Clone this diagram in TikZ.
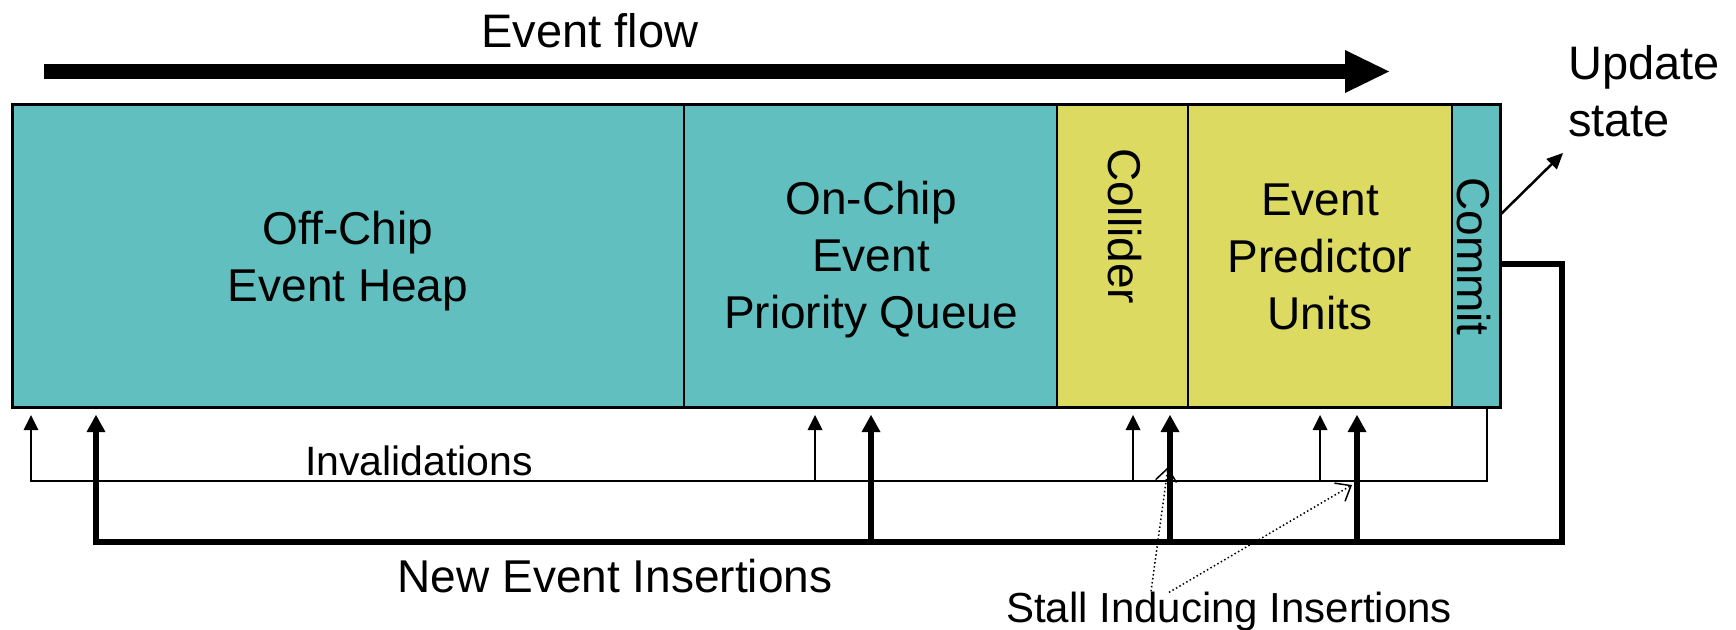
\documentclass[tikz,border=0pt]{standalone}
\usepackage{fontspec}
\setmainfont{Liberation Sans}
\usetikzlibrary{arrows.meta,calc}
\definecolor{stageteal}{HTML}{62BFBF}
\definecolor{stageyellow}{HTML}{DDDA62}
\begin{document}
\begin{tikzpicture}[x=1pt,y=-1pt,
  stage/.style={draw,line width=2pt,inner sep=0pt,outer sep=0pt,minimum height=303pt},
  lbl/.style={font=\fontsize{46}{57}\selectfont,align=center,inner sep=0pt},
  invarrow/.style={line width=1.5pt,shorten >=8pt,-{Triangle[length=15pt,width=15pt,line width=0pt]}},
  insarrow/.style={line width=6pt,shorten >=8pt,-{Triangle[length=17pt,width=19pt,line width=0pt]}},
  stallarrow/.style={line width=1.5pt,dash pattern=on 1.5pt off 2.5pt,-{Straight Barb[length=13pt,width=21pt]}},
]
\useasboundingbox (0,0) rectangle (1736,629);

% pipeline stages
\node[stage,fill=stageteal,minimum width=672pt] (offchip) at (348,255.5) {};
\node[stage,fill=stageteal,minimum width=373pt] (onchip) at (870.5,255.5) {};
\node[stage,fill=stageyellow,minimum width=131pt] (collider) at (1122.5,255.5) {};
\node[stage,fill=stageyellow,minimum width=264pt] (predictor) at (1320,255.5) {};
\node[stage,fill=stageteal,minimum width=48pt] (commit) at (1476,255.5) {};
\draw[line width=3pt] (offchip.north west) rectangle (commit.south east);

% stage labels
\node[lbl] (offlabel) at (348,261.6) {Off-Chip\\Event Heap};
\node[lbl] (onlabel) at (871,259.4) {On-Chip\\Event\\Priority Queue};
\node[lbl] (predlabel) at (1320,257) {Event\\Predictor\\Units};
\node[lbl,rotate=-90] (collabel) at (1125,226) {Collider};
\node[lbl,rotate=-90] (comlabel) at (1474,256.5) {Commit};

% event flow
\coordinate (flowstart) at (44,71.5);
\coordinate (flowend) at (1389,71.5);
\draw[line width=15pt,-{Triangle[length=44pt,width=43pt,line width=0pt]}] (flowstart) -- (flowend);
\node[font=\fontsize{47}{57}\selectfont,anchor=base,inner sep=0pt] (flowlabel) at (590,47) {Event flow};

% commit output
\node[font=\fontsize{47}{57}\selectfont,align=left,anchor=north west,inner sep=0pt] (updlabel) at (1568,45.7) {Update\\state};
\coordinate (updtip) at (1563,153);
\draw[line width=2.5pt,-{Triangle[length=16pt,width=15pt,line width=0pt]}] ($(commit.east)+(0,-40.5)$) -- (updtip);

% invalidation bus
\coordinate (invA) at (31,481);
\coordinate (invB) at (815,481);
\coordinate (invC) at (1133,481);
\coordinate (invD) at (1320,481);
\draw[invarrow] ($(commit.south)+(11,0)$) |- (invA) -- (invA |- offchip.south);
\draw[invarrow] (invB) -- (invB |- onchip.south);
\draw[invarrow] (invC) -- (invC |- collider.south);
\draw[invarrow] (invD) -- (invD |- predictor.south);
\node[font=\fontsize{41}{50}\selectfont,anchor=base,inner sep=0pt] (invlabel) at (419,475) {Invalidations};

% new event insertion bus
\coordinate (insE) at (1562,542);
\coordinate (insA) at (96,542);
\coordinate (insB) at (871,542);
\coordinate (insC) at (1170,542);
\coordinate (insD) at (1357,542);
\draw[insarrow,line join=miter] ($(commit.east)+(0,8.5)$) -| (insE) -- (insA) -- (insA |- offchip.south);
\draw[insarrow] (insB) -- (insB |- onchip.south);
\draw[insarrow] (insC) -- (insC |- collider.south);
\draw[insarrow] (insD) -- (insD |- predictor.south);
\node[font=\fontsize{46}{57}\selectfont,anchor=base,inner sep=0pt] (inslabel) at (615,592) {New Event Insertions};

% stall inducing insertions
\node[font=\fontsize{42}{50}\selectfont,anchor=base,inner sep=0pt] (stall) at (1229,622) {Stall Inducing Insertions};
\coordinate (stalltipC) at (1168,467);
\coordinate (stalltipD) at (1352,485);
\draw[stallarrow] ($(stall.north)+(-78,0)$) -- (stalltipC);
\draw[stallarrow] ($(stall.north)+(-60,1)$) -- (stalltipD);
\end{tikzpicture}
\end{document}
